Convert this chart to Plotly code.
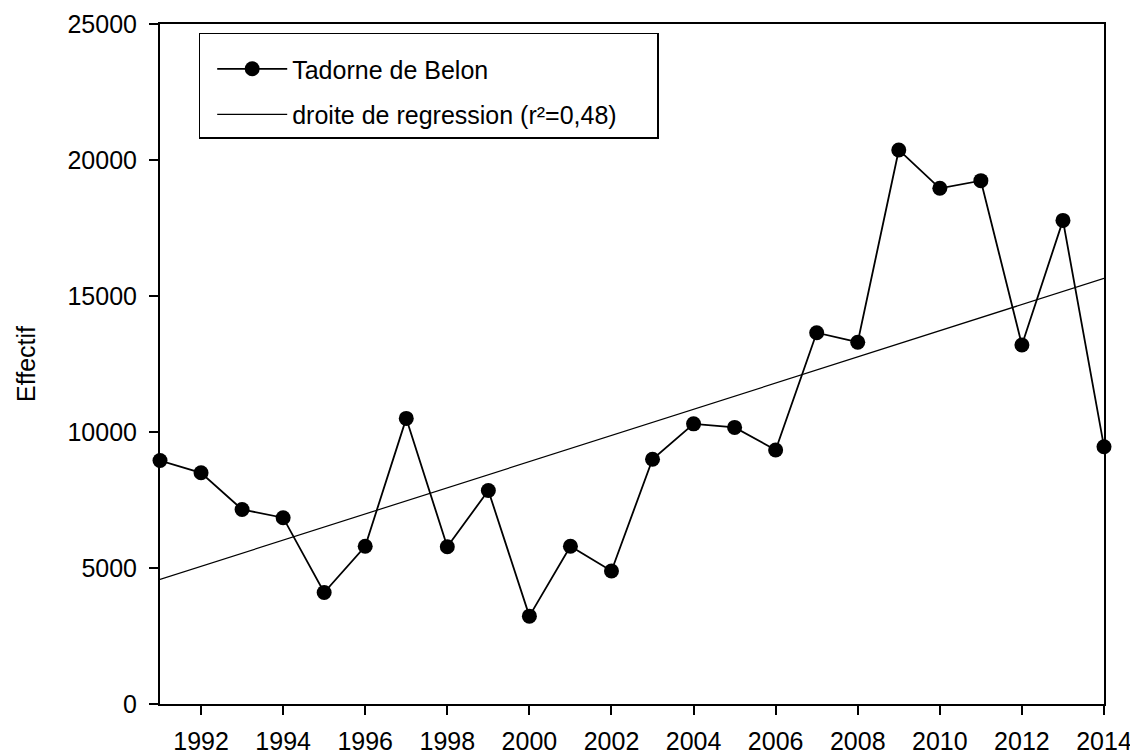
import plotly.graph_objects as go

# effectifs annuels (lecture du graphique)
years = [1991, 1992, 1993, 1994, 1995, 1996, 1997, 1998, 1999, 2000, 2001, 2002,
         2003, 2004, 2005, 2006, 2007, 2008, 2009, 2010, 2011, 2012, 2013, 2014]
counts = [8950, 8500, 7150, 6850, 4100, 5800, 10500, 5780, 7850, 3230, 5800, 4890,
          9000, 10300, 10170, 9340, 13650, 13300, 20370, 18960, 19240, 13200, 17780, 9460]

# droite de regression (extremites)
trend_years = [1991, 2014]
trend_counts = [4580, 15650]

x_ticks = list(range(1992, 2015, 2))
y_ticks = [0, 5000, 10000, 15000, 20000, 25000]

FONT = "Liberation Sans, Arial, sans-serif"

fig = go.Figure()
fig.add_trace(go.Scatter(
    x=years, y=counts, mode="lines+markers", name="Tadorne de Belon",
    legendgroup="a",
    line=dict(color="black", width=1.8),
    marker=dict(color="black", size=15),
    cliponaxis=False,
))
fig.add_trace(go.Scatter(
    x=trend_years, y=trend_counts, mode="lines",
    # espaces insecables : elargit le cadre de legende comme l'original
    name="droite de regression (r²=0,48)" + "\u00a0" * 5, legendgroup="b",
    line=dict(color="black", width=1.2),
))

# la page html a une marge de 8 px : figure de 1130x748 pour tenir dans 1138x756
fig.update_layout(
    width=1130, height=748,
    margin=dict(l=152, r=34, t=16, b=52),
    paper_bgcolor="white", plot_bgcolor="white",
    font=dict(family=FONT, size=25, color="black"),
    showlegend=True,
    legend=dict(
        x=0.041, y=0.987, xanchor="left", yanchor="top",
        bgcolor="white", bordercolor="black", borderwidth=1.5,
        font=dict(family=FONT, size=25, color="black"),
        title=dict(text="\u00a0", font=dict(size=9)),
        itemwidth=70, indentation=12,
        traceorder="grouped", tracegroupgap=10,
    ),
)
fig.update_xaxes(
    range=[1991, 2014], tickvals=x_ticks, ticktext=[str(v) for v in x_ticks],
    showgrid=False, zeroline=False, automargin=False,
    showline=True, linecolor="black", linewidth=2, mirror=True,
    ticks="outside", ticklen=9, tickwidth=2, tickcolor="black",
    ticklabelstandoff=5,
)
fig.update_yaxes(
    range=[0, 25000], tickvals=y_ticks, ticktext=[str(v) for v in y_ticks],
    showgrid=False, zeroline=False, automargin=False,
    showline=True, linecolor="black", linewidth=2, mirror=True,
    ticks="outside", ticklen=9, tickwidth=2, tickcolor="black",
    ticklabelstandoff=7,
    title=dict(text="Effectif", standoff=25, font=dict(family=FONT, size=25)),
)

fig.write_html("out.html")
